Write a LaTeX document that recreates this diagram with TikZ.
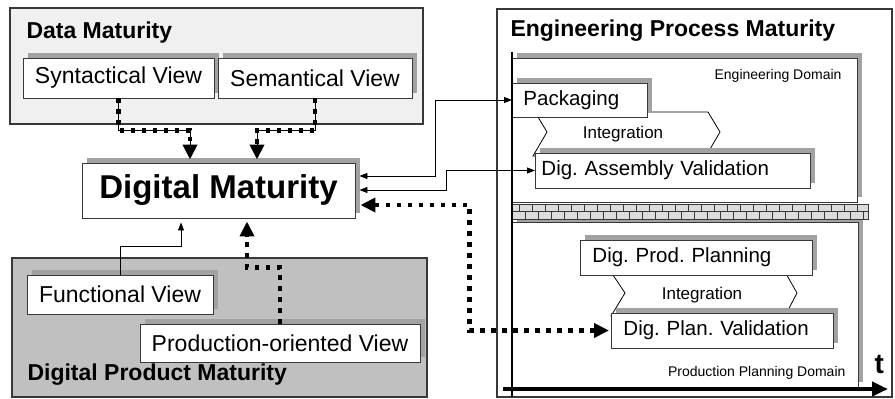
\documentclass[tikz,border=0pt]{standalone}
\usepackage{fontspec}
\setmainfont{Liberation Sans}
\usetikzlibrary{arrows.meta,shadows,calc}
\definecolor{shgray}{HTML}{A2A2A2}
\definecolor{edge}{HTML}{383838}
\definecolor{lightbg}{HTML}{F0F0F0}
\definecolor{midbg}{HTML}{C0C0C0}
\definecolor{brick}{HTML}{DCDCDC}
\frenchspacing
\tikzset{
  fsz/.style={font=\fontsize{#1}{#1}\selectfont},
  bsz/.style={font=\fontsize{#1}{#1}\selectfont\bfseries},
  outer/.style={draw=edge, line width=1.3pt, inner sep=0pt},
  box/.style={draw=edge, line width=0.9pt, fill=white, inner sep=0pt,
    general shadow={fill=shgray, shadow xshift=5pt, shadow yshift=5pt}},
  lbox/.style={box, anchor=west, align=left, inner xsep=#1},
  thinline/.style={draw=black, line width=0.9pt},
  thinarrow/.style={thinline, {Triangle[width=6pt,length=8pt]}-{Triangle[width=6pt,length=8pt]}},
  dotsq/.style={draw=black, line width=4.5pt, dash pattern=on 4.5pt off 6.5pt},
  bigtip/.style={-{Triangle[width=14pt,length=15pt]}},
  chev/.style={draw=black, line width=0.8pt, fill=white},
}
\begin{document}
\frenchspacing
\begin{tikzpicture}[x=1pt,y=-1pt]
\useasboundingbox (0,0) rectangle (895,399);

% ---------- left containers ----------
\node[outer, fill=lightbg, minimum width=413pt, minimum height=116pt] (dmat) at (216.5,66) {};
\node[anchor=base west, bsz=23] (dmatt) at (23,38) {Data Maturity};
\node[box, minimum width=191pt, minimum height=40pt, fsz=23] (syn) at (118.5,78) {Syntactical View};
\node[box, minimum width=194pt, minimum height=40pt, fsz=23] (sem) at (315,78) {Semantical View};

\node[outer, fill=midbg, minimum width=415pt, minimum height=139pt] (dpm) at (219.5,327.5) {};
\node[anchor=base west, bsz=23] (dpmt) at (24,380) {Digital Product Maturity};
\node[box, minimum width=186pt, minimum height=39pt, fsz=23] (func) at (120,294.5) {Functional View};
\node[box, minimum width=280pt, minimum height=38pt, fsz=23] (prod) at (280,343) {Production-oriented View};

\node[box, minimum width=273pt, minimum height=55pt, bsz=33] (dm) at (218.5,190.5) {Digital Maturity};

% ---------- right container ----------
\node[outer, fill=white, minimum width=395pt, minimum height=388pt] (epm) at (694.5,203) {};
\node[anchor=base west, bsz=23] (epmt) at (507,36) {Engineering Process Maturity};

\node[box, minimum width=345pt, minimum height=144pt] (engd) at (684.5,130) {};
\node[anchor=east, fsz=14] (engdt) at (845,76) {Engineering Domain};
\node[box, minimum width=346pt, minimum height=165pt] (ppd) at (685,304.5) {};
\node[anchor=east, fsz=14] (ppdt) at (849,373) {Production Planning Domain};

% brick wall
\fill[brick] (512,204) rectangle (868,219);
\draw[edge, line width=0.8pt] (512,204) rectangle (868,219);
\draw[edge, line width=0.8pt] (512,211.5) -- (868,211.5);
\foreach \x in {519,532,...,866} \draw[edge, line width=0.8pt] (\x,204) -- (\x,211.5);
\foreach \x in {525.5,538.5,...,866} \draw[edge, line width=0.8pt] (\x,211.5) -- (\x,219);

% chevrons
\coordinate (c1a) at (535,112); \coordinate (c1b) at (708,112); \coordinate (c1c) at (720,132);
\coordinate (c1d) at (706,156); \coordinate (c1e) at (533,156); \coordinate (c1f) at (547,132);
\draw[chev] (c1a) -- (c1b) -- (c1c) -- (c1d) -- (c1e) -- (c1f) -- cycle;
\node[fsz=17] (int1) at (623,134) {Integration};
\coordinate (c2a) at (611,272); \coordinate (c2b) at (785,272); \coordinate (c2c) at (797,293);
\coordinate (c2d) at (785,316); \coordinate (c2e) at (611,316); \coordinate (c2f) at (625,293);
\draw[chev] (c2a) -- (c2b) -- (c2c) -- (c2d) -- (c2e) -- (c2f) -- cycle;
\node[fsz=17] (int2) at (702,295) {Integration};

\node[lbox=11pt, text width=113pt, minimum height=34pt, fsz=20.5] (pack) at (512,100) {Packaging};
\node[lbox=6pt, text width=263pt, minimum height=35pt, fsz=20.5] (dav) at (535,170.5) {Dig. Assembly Validation};
\node[lbox=12pt, text width=208pt, minimum height=35pt, fsz=20.5] (dpp) at (580,257.5) {Dig. Prod. Planning};
\node[lbox=12pt, text width=198pt, minimum height=35pt, fsz=20.5] (dpv) at (611,330.5) {Dig. Plan. Validation};

% time axis
\coordinate (v0) at (512,52); \coordinate (v1) at (512,397);
\draw[line width=1.3pt] (v0) -- (v1);
\coordinate (t0) at (503,389); \coordinate (t1) at (888,389);
\draw[line width=4pt, -{Triangle[width=14pt,length=16pt]}] (t0) -- (t1);
\node[anchor=base west, bsz=28] (tl) at (871,373) {t};

% ---------- connectors ----------
% Syntactical -> DM
\draw[thinline] (syn.south) -- ++(0,32) -| ($(dm.north)+(-28.5,-12)$);
\draw[dotsq, bigtip] (syn.south) -- ++(0,32) -| ($(dm.north)+(-28.5,-3)$);
% Semantical -> DM
\draw[thinline] (sem.south) -- ++(0,32) -| ($(dm.north)+(38.5,-12)$);
\draw[dotsq, bigtip] (sem.south) -- ++(0,32) -| ($(dm.north)+(38.5,-3)$);
% Functional -> DM
\draw[thinline, -{Triangle[width=6pt,length=8pt]}] (func.north) -- ++(0,-28) -| ($(dm.south)+(-37.5,4)$);
% Production-oriented -> DM
\draw[dotsq, bigtip] (prod.north) -- ++(0,-56) -| ($(dm.south)+(28.5,3)$);
% DM <-> Packaging
\draw[thinarrow] ($(dm.east)+(4,-14.5)$) -- ($(dm.east)+(80,-14.5)$) |- (pack.west);
% DM <-> Dig. Assembly Validation
\draw[thinarrow] ($(dm.east)+(4,-0.5)$) -- ($(dm.east)+(91,-0.5)$) |- (dav.west);
% DM <-> Dig. Plan. Validation
\draw[dotsq, {Triangle[width=14pt,length=15pt]}-{Triangle[width=14pt,length=15pt]}]
  ($(dm.east)+(5,14.5)$) -- ($(dm.east)+(114,14.5)$) |- ($(dpv.west)+(-2,0)$);
\end{tikzpicture}
\end{document}
